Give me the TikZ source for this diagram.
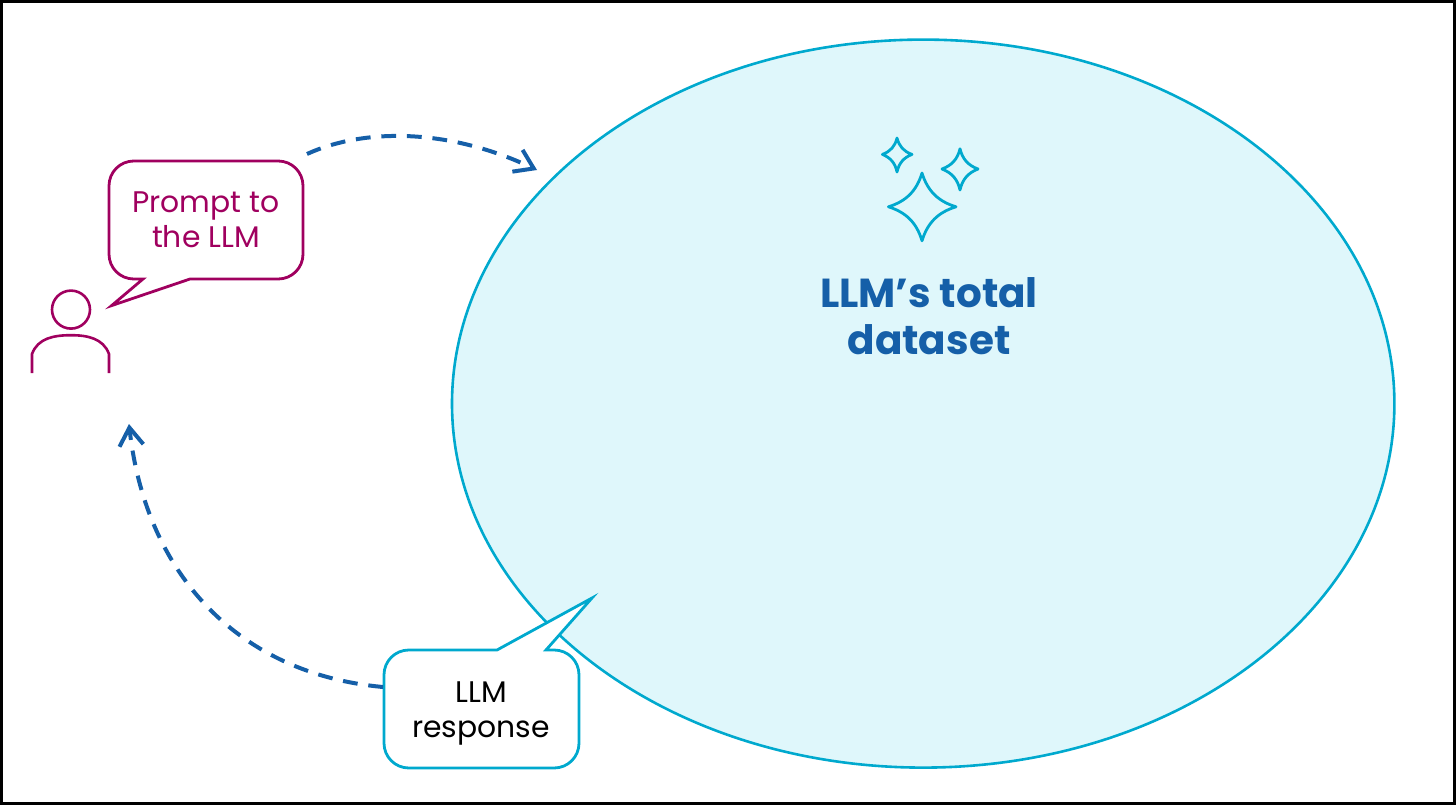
\documentclass[tikz,border=0pt]{standalone}
\usepackage{fontspec}
\setmainfont{Poppins}
\usetikzlibrary{arrows.meta,shapes.geometric}
\definecolor{plum}{HTML}{A0005F}
\definecolor{lakeblue}{HTML}{00A9CE}
\definecolor{lakefill}{HTML}{DFF7FB}
\definecolor{darkblue}{HTML}{155FA8}
\tikzset{
  speech/.style={font=\fontsize{21.2}{24.9}\selectfont,align=center,inner sep=0pt},
  bubble/.style={line width=0.07cm,fill=white,line join=miter},
  flow/.style={darkblue,line width=0.1cm,dash pattern=on 0.37cm off 0.27cm,-{Straight Barb[length=0.45cm,width=0.6cm,line width=0.1cm]}},
  sparkle/.style={lakeblue,line width=0.07cm,line join=round}
}
\begin{document}
\begin{tikzpicture}
\useasboundingbox (0cm,0cm) rectangle (36.4cm,-20.125cm);
\draw[black,line width=0.07cm] (0.035cm,-0.035cm) rectangle (36.365cm,-20.09cm);
% the big ellipse
\node[ellipse,draw=lakeblue,fill=lakefill,line width=0.065cm,minimum width=23.56cm,minimum height=18.2cm,inner sep=0pt] (dataset) at (23.08cm,-10.09cm) {};
\node[darkblue,align=center,inner sep=0pt,font=\fontsize{28.8}{33.4}\selectfont\bfseries] (title) at (23.225cm,-7.9cm) {LLM’s total\\dataset};
% stars
\draw[sparkle] (23.05cm,-4.325cm) to[bend right=28] (23.9cm,-5.17cm) to[bend right=28] (23.05cm,-6.02cm) to[bend right=28] (22.21cm,-5.17cm) to[bend right=28] cycle;
\draw[sparkle] (22.425cm,-3.45cm) to[bend right=28] (22.8cm,-3.86cm) to[bend right=28] (22.425cm,-4.3cm) to[bend right=28] (22.06cm,-3.86cm) to[bend right=28] cycle;
\draw[sparkle] (24cm,-3.72cm) to[bend right=28] (24.45cm,-4.225cm) to[bend right=28] (24cm,-4.75cm) to[bend right=28] (23.55cm,-4.225cm) to[bend right=28] cycle;
% person
\node[circle,draw=plum,line width=0.065cm,minimum size=0.95cm,inner sep=0pt] (head) at (1.775cm,-7.74cm) {};
\draw[plum,line width=0.065cm] (0.8cm,-9.325cm) -- (0.8cm,-8.85cm) to[out=70,in=180] (1.775cm,-8.38cm) to[out=0,in=110] (2.725cm,-8.85cm) -- (2.725cm,-9.325cm);
% speech bubbles
\draw[plum,bubble] (4.75cm,-6.975cm) -- (6.955cm,-6.975cm) arc[start angle=270,end angle=360,radius=0.62cm] -- (7.575cm,-4.645cm) arc[start angle=0,end angle=90,radius=0.62cm] -- (3.345cm,-4.025cm) arc[start angle=90,end angle=180,radius=0.62cm] -- (2.725cm,-6.355cm) arc[start angle=180,end angle=270,radius=0.62cm] -- (3.575cm,-6.975cm) -- (2.79cm,-7.64cm) -- cycle;
\node[plum,speech] (prompt) at (5.15cm,-5.5cm) {Prompt to\\the LLM};
\draw[lakeblue,bubble] (13.65cm,-16.25cm) -- (13.855cm,-16.25cm) arc[start angle=90,end angle=0,radius=0.62cm] -- (14.475cm,-18.58cm) arc[start angle=0,end angle=-90,radius=0.62cm] -- (10.22cm,-19.2cm) arc[start angle=270,end angle=180,radius=0.62cm] -- (9.6cm,-16.87cm) arc[start angle=180,end angle=90,radius=0.62cm] -- (12.425cm,-16.25cm) -- (14.8cm,-14.95cm) -- cycle;
\node[black,speech] (response) at (12.025cm,-17.83cm) {LLM\\response};
% arrows
\coordinate (promptout) at (7.675cm,-3.85cm);
\coordinate (datasetin) at (13.425cm,-4.25cm);
\coordinate (responseout) at (9.575cm,-17.175cm);
\coordinate (personin) at (3.225cm,-10.6cm);
\draw[flow] (promptout) .. controls (9.1cm,-3.2cm) and (11.2cm,-3.2cm) .. (datasetin);
\draw[flow] (responseout) .. controls (6cm,-16.85cm) and (3.65cm,-14.4cm) .. (personin);
\end{tikzpicture}
\end{document}
